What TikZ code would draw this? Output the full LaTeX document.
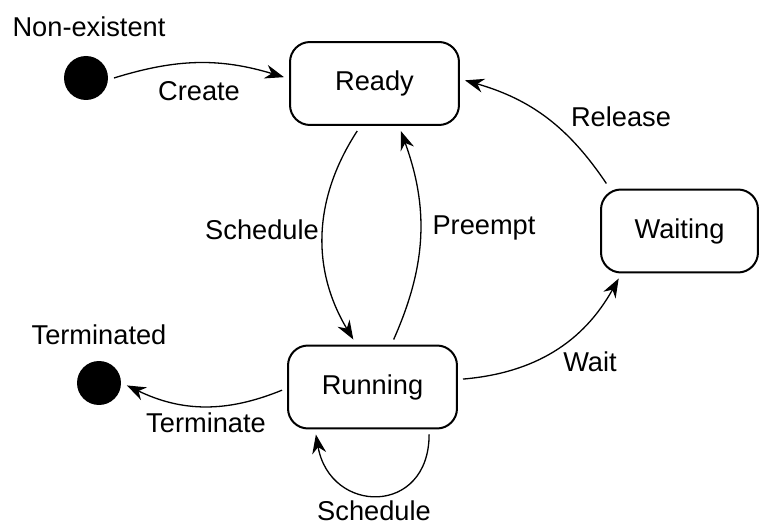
\documentclass[tikz,border=0pt]{standalone}
\usepackage{fontspec}
\setmainfont{Liberation Sans}
\usetikzlibrary{arrows.meta}

\begin{document}
\begin{tikzpicture}[x=0.02cm,y=-0.02cm,
    every node/.style={font=\fontsize{15.5}{18}\selectfont},
    etat/.style={draw,line width=0.04cm,rounded corners=0.4cm,
        minimum width=3.38cm,minimum height=1.66cm,inner sep=0pt,outer sep=0.12cm},
    point/.style={circle,fill=black,minimum size=0.88cm,inner sep=0pt,outer sep=0.12cm},
    fleche/.style={line width=0.026cm,-{Stealth[length=0.38cm,width=0.28cm]}}]
\useasboundingbox (0,0) rectangle (760,526);%cadre de l'image

% etats
\node[point] (nonex) at (86,78) {};
\node[point] (term) at (99,383) {};
\node[etat] (ready) at (374.5,83.5) {Ready};
\node[etat] (running) at (372.5,387) {Running};
\node[etat,minimum width=3.14cm] (waiting) at (679.5,231) {Waiting};

% textes
\node (l-nonex) at (89,27) {Non-existent};
\node (l-term) at (99,335) {Terminated};
\node (l-create) at (199,91) {Create};
\node (l-sched1) at (262,230) {Schedule};
\node (l-preempt) at (484,228) {Preempt};
\node (l-release) at (621,117) {Release};
\node (l-wait) at (590,362) {Wait};
\node (l-terminate) at (206,423) {Terminate};
\node[inner sep=1pt] (l-sched2) at (374,510.5) {Schedule};

% transitions
\draw[fleche] (nonex.east) to[bend left=17] (ready.176);
\draw[fleche] (ready.-110) to[bend right=32] (running.112);
\draw[fleche] (running.66) to[bend right=22] (ready.-61);
\draw[fleche] (waiting.147) to[bend right=20] (ready.2);
\draw[fleche] (running.5) to[bend right=28] (waiting.-142);
\draw[fleche] (running.182) to[bend left=24] (term.-5);
\draw[fleche] (running.-40) to[out=-90,in=-80,looseness=1.85] (running.-140);

\end{tikzpicture}
\end{document}
